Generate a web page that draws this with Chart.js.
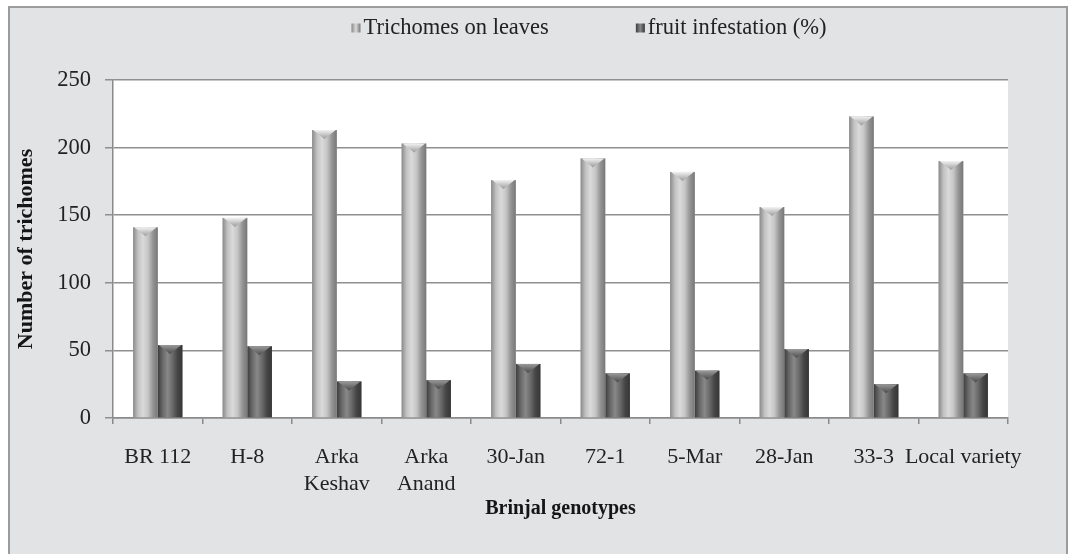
<!DOCTYPE html>
<html><head><meta charset="utf-8">
<script src="https://cdn.jsdelivr.net/npm/chart.js@4.4.1/dist/chart.umd.min.js"></script>
<style>
html,body{margin:0;padding:0;background:#fff;width:1069px;height:554px;overflow:hidden;}
#frame{position:absolute;left:8px;top:6px;width:1060px;height:570px;background:#e2e3e5;border:2px solid #9c9c9c;box-sizing:border-box;}
#wrap{position:absolute;left:0;top:0;width:1069px;height:554px;}
</style></head><body>
<div id="frame"></div>
<div id="wrap"><canvas id="c" width="1069" height="554"></canvas></div>
<script>
// ---- data ----
const categories = ["BR 112", "H-8", ["Arka", "Keshav"], ["Arka", "Anand"], "30-Jan", "72-1", "5-Mar", "28-Jan", "33-3", "Local variety"];
const seriesNames = ["Trichomes on leaves", "fruit infestation (%)"];
const trichomes = [141, 148, 213, 203, 176, 192, 182, 156, 223, 190];
const infestation = [54, 53, 27, 28, 40, 33, 35, 51, 25, 33];
const yTicks = [0, 50, 100, 150, 200, 250];
const xTitle = "Brinjal genotypes";
const yTitle = "Number of trichomes";

// ---- styles ----
const FONT = "'Liberation Serif', 'Times New Roman', serif";
const shades = [
  {base:'#b4b4b4', stops:['#8a8a8a','#c2c2c2','#dadada','#c6c6c6','#959595','#777777'], top:['#f2f2f2','#9a9a9a']},
  {base:'#606060', stops:['#3c3c3c','#686868','#888888','#6a6a6a','#464646','#363636'], top:['#9a9a9a','#4a4a4a']}
];

const plotBg = {
  id:'plotBg',
  beforeDraw(chart){
    const {ctx, chartArea:a} = chart;
    ctx.save(); ctx.fillStyle='#ffffff';
    ctx.fillRect(a.left, a.top, a.right-a.left, a.bottom-a.top);
    ctx.restore();
  }
};

const barShade = {
  id:'barShade',
  afterDatasetDraw(chart, args){
    const {ctx} = chart;
    const s = shades[args.index];
    args.meta.data.forEach(el=>{
      const l = el.x - el.width/2, r = el.x + el.width/2, t = el.y, b = el.base;
      const g = ctx.createLinearGradient(l,0,r,0);
      const n = s.stops.length;
      s.stops.forEach((c,i)=>g.addColorStop(i/(n-1), c));
      ctx.save();
      ctx.fillStyle = g;
      ctx.fillRect(l, t, r-l, b-t);
      const h = Math.min(9, (b-t)/2);
      const tg = ctx.createLinearGradient(0,t,0,t+h);
      tg.addColorStop(0, s.top[0]); tg.addColorStop(1, s.top[1]);
      ctx.fillStyle = tg;
      ctx.beginPath();
      ctx.moveTo(l+1, t); ctx.lineTo(r-1, t); ctx.lineTo(el.x, t+h); ctx.closePath();
      ctx.fill();
      ctx.restore();
    });
  }
};

const topLegend = {
  id:'topLegend',
  afterDraw(chart, args, opts){
    const {ctx} = chart;
    ctx.save();
    ctx.font = `${opts.size}px ${FONT}`;
    ctx.textBaseline = 'middle';
    ctx.textAlign = 'left';
    const items = chart.data.datasets.map((d,i)=>({text:d.label, w:ctx.measureText(d.label).width, i}));
    const itemW = it => opts.box + opts.boxGap + it.w;
    const total = items.reduce((s,it)=>s+itemW(it),0) + opts.gap*(items.length-1);
    let x = opts.center - total/2;
    items.forEach(it=>{
      const s = shades[it.i];
      const g = ctx.createLinearGradient(x,0,x+opts.box,0);
      g.addColorStop(0, s.stops[0]); g.addColorStop(0.5, s.stops[2]); g.addColorStop(1, s.stops[5]);
      ctx.fillStyle = g;
      ctx.fillRect(x, opts.y - opts.box/2, opts.box, opts.box);
      ctx.fillStyle = '#222222';
      ctx.fillText(it.text, x + opts.box + opts.boxGap, opts.y);
      x += itemW(it) + opts.gap;
    });
    ctx.restore();
  }
};

new Chart(document.getElementById('c'), {
  type:'bar',
  data:{
    labels: categories,
    datasets:[
      {label: seriesNames[0], data: trichomes, backgroundColor: shades[0].base, borderWidth:0, categoryPercentage:0.55, barPercentage:1.0},
      {label: seriesNames[1], data: infestation, backgroundColor: shades[1].base, borderWidth:0, categoryPercentage:0.55, barPercentage:1.0}
    ]
  },
  options:{
    responsive:false,
    animation:false,
    devicePixelRatio:1,
    layout:{padding:{top:80, right:61, bottom:0, left:0}},
    plugins:{
      legend:{display:false},
      tooltip:{enabled:false},
      topLegend:{center:589, y:28, size:22.5, box:9, boxGap:3, gap:87}
    },
    scales:{
      x:{
        grid:{display:true, drawOnChartArea:false, drawTicks:true, tickLength:6, color:'#8a8a8a', lineWidth:1.5, offset:true},
        border:{display:true, color:'#8a8a8a', width:1.5},
        ticks:{font:{family:FONT, size:22, lineHeight:1.25}, color:'#222222', padding:19, maxRotation:0, autoSkip:false},
        title:{display:true, text:xTitle, font:{family:FONT, size:20, weight:'bold'}, color:'#151515', padding:{top:0, bottom:33}},
        afterFit(s){ s.height = 136; }
      },
      y:{
        min: yTicks[0], max: yTicks[yTicks.length-1],
        afterBuildTicks(s){ s.ticks = yTicks.map(v=>({value:v})); },
        grid:{color:'#8f8f8f', lineWidth:1.5, tickLength:8, drawTicks:true},
        border:{display:true, color:'#8a8a8a', width:1.5},
        ticks:{font:{family:FONT, size:22.5}, color:'#222222', padding:14},
        title:{display:true, text:yTitle, font:{family:FONT, size:22, weight:'bold'}, color:'#151515', padding:{top:13, bottom:0}},
        afterFit(s){ s.width = 113; }
      }
    }
  },
  plugins:[plotBg, barShade, topLegend]
});
</script>
</body></html>
